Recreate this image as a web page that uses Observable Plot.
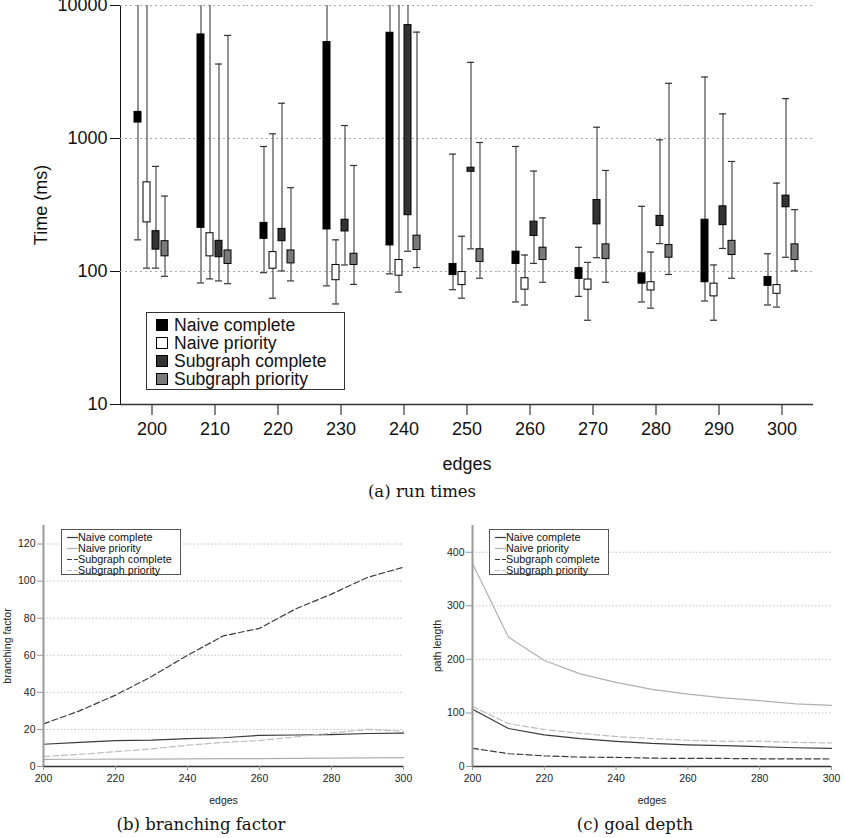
<!DOCTYPE html>
<html><head><meta charset="utf-8">
<script src="https://cdn.jsdelivr.net/npm/d3@7"></script>
<script src="https://cdn.jsdelivr.net/npm/@observablehq/plot@0.6"></script>
<style>
body{margin:0;background:#fff;}
#wrap{position:relative;width:844px;height:838px;overflow:hidden;}
#wrap svg{position:absolute;}
.cap{position:absolute;font-family:"DejaVu Serif",serif;font-size:16.5px;line-height:18px;text-align:center;color:#111;}
.legend{position:absolute;box-sizing:border-box;background:#fff;font-family:"Liberation Sans",Arial,sans-serif;color:#111;}
.legend .row{position:absolute;left:0;white-space:nowrap;}
</style></head><body><div id="wrap"></div>
<script>
// ---------- data ----------
const edges = [200, 210, 220, 230, 240, 250, 260, 270, 280, 290, 300];
const series = ["Naive complete", "Naive priority", "Subgraph complete", "Subgraph priority"];
const timeTicks = [10, 100, 1000, 10000];
// run times (ms): [low whisker, Q1, Q3, high whisker]; 20000 = whisker runs past the top of the chart
const naiveCompleteTime = [[173,1318,1585,20000],[82,213,6060,20000],[98,176,232,871],[78,207,5309,20000],[96,157,6237,20000],[73,94,114,763],[59,114,141,871],[65,88,106,152],[59,81,97,309],[60,83,245,2900],[56,78,91,136]];
const naivePriorityTime = [[106,234,468,20000],[88,130,194,20000],[63,105,140,1084],[57,86,112,173],[70,93,122,20000],[63,79,99,184],[56,73,89,133],[43,73,87,117],[53,72,83,140],[43,65,81,112],[54,68,79,462]];
const subgraphCompleteTime = [[106,146,201,617],[85,128,170,3631],[101,169,209,1841],[112,200,245,1252],[142,265,7120,20000],[148,562,603,3736],[115,185,237,569],[127,226,345,1216],[162,220,262,977],[149,223,309,1531],[128,304,372,1995]];
const subgraphPriorityTime = [[92,130,169,369],[81,114,144,5957],[85,115,144,427],[80,112,136,627],[107,145,186,6310],[89,118,147,933],[83,122,151,253],[83,124,160,575],[95,127,158,2600],[89,133,170,672],[101,122,160,292]];

// branching factor
const bfNaiveComplete = [12, 13, 14, 14.2, 15, 15.5, 16.8, 17, 17.2, 17.8, 18];
const bfNaivePriority = [3.8, 3.9, 4, 4, 4.1, 4.2, 4.3, 4.4, 4.5, 4.6, 4.8];
const bfSubgraphComplete = [23, 30, 38.5, 48.5, 60, 70.5, 74.5, 85, 93, 102, 107.5];
const bfSubgraphPriority = [5.4, 6.5, 8, 9.5, 11.5, 13, 14, 16, 18, 20, 19];
const bfTicks = [0, 20, 40, 60, 80, 100, 120];

// goal depth (path length)
const gdNaiveComplete = [107, 71, 59, 52, 47, 43, 40.5, 39, 37, 35, 34];
const gdNaivePriority = [379, 242, 198, 173, 157, 144, 135, 128, 123, 117, 114];
const gdSubgraphComplete = [34, 24, 20, 17.5, 17, 15.6, 15, 15, 14.4, 14.4, 14];
const gdSubgraphPriority = [112, 80, 69, 62, 56, 52, 49, 47, 47.5, 45, 44];
const gdTicks = [0, 100, 200, 300, 400];
const lineXTicks = [200, 220, 240, 260, 280, 300];

// ---------- styles ----------
const boxFill = ["#000000", "#ffffff", "#333333", "#7a7a7a"];
const lineStroke = ["#3a3a3a", "#b0b0b0", "#3a3a3a", "#bdbdbd"];
const lineDash = [null, null, "6,3", "6,3"];
const sans = "'Liberation Sans', Arial, sans-serif";

const wrap = document.getElementById("wrap");

// ---------- (a) run times ----------
const timeSets = [naiveCompleteTime, naivePriorityTime, subgraphCompleteTime, subgraphPriorityTime];
const rows = [];
series.forEach((s, i) => timeSets[i].forEach((v, j) => rows.push({edges: edges[j], series: s, lo: v[0], q1: v[1], q3: v[2], hi: v[3]})));

const plotA = Plot.plot({
  width: 844, height: 472,
  marginLeft: 116, marginRight: 28, marginTop: 5, marginBottom: 68,
  style: {fontFamily: sans, fontSize: "18px", color: "#111", background: "transparent", overflow: "visible"},
  fx: {domain: edges, paddingInner: 0, paddingOuter: 0, axis: "bottom", tickSize: 11, tickPadding: 7, label: "edges", labelAnchor: "center", labelArrow: "none"},
  x: {domain: series, paddingInner: 0.2, paddingOuter: 1.28, axis: null},
  y: {type: "log", domain: [10, 10000], ticks: timeTicks, tickFormat: d => String(d), tickSize: 10, tickPadding: 3, line: true, label: "Time (ms)", labelAnchor: "center", labelOffset: 86, labelArrow: "none"},
  color: {domain: series, range: boxFill},
  marks: [
    Plot.ruleY(timeTicks.slice(1), {stroke: "#aaa", strokeDasharray: "2,3"}),
    Plot.ruleX(rows, {fx: "edges", x: "series", y1: "lo", y2: "hi", stroke: "#4a4a4a", strokeWidth: 1.2, clip: true}),
    Plot.tickY(rows, {fx: "edges", x: "series", y: "hi", stroke: "#333", strokeWidth: 1.2, clip: true}),
    Plot.tickY(rows, {fx: "edges", x: "series", y: "lo", stroke: "#333", strokeWidth: 1.2, clip: true}),
    Plot.barY(rows, {fx: "edges", x: "series", y1: "q1", y2: "q3", fill: "series", stroke: "#000", strokeWidth: 1}),
    Plot.ruleY([10], {stroke: "#333", strokeWidth: 1.5})
  ]
});
plotA.style.left = "0px"; plotA.style.top = "0px";
wrap.appendChild(plotA);

// legend (a)
(function () {
  const lg = document.createElement("div");
  lg.className = "legend";
  Object.assign(lg.style, {left: "146px", top: "312px", width: "199px", height: "78px", border: "1px solid #333", fontSize: "17.6px"});
  series.forEach((s, i) => {
    const r = document.createElement("div");
    r.className = "row";
    Object.assign(r.style, {top: (3 + i * 18) + "px", height: "18px", lineHeight: "18px"});
    const sw = document.createElement("span");
    Object.assign(sw.style, {position: "absolute", left: "9px", top: "3px", width: "12px", height: "12px", boxSizing: "border-box", border: "1px solid #000", background: boxFill[i]});
    const t = document.createElement("span");
    Object.assign(t.style, {position: "absolute", left: "27px", top: "0px"});
    t.textContent = s;
    r.appendChild(sw); r.appendChild(t); lg.appendChild(r);
  });
  wrap.appendChild(lg);
})();

// ---------- line charts ----------
function lineChart(sets, yDomain, yTicks, yLabel, mL, mR, labelOffset) {
  const marks = [
    Plot.ruleY(yTicks.filter(d => d > 0), {stroke: "#c4c4c4", strokeDasharray: "1.5,2"})
  ];
  sets.forEach((vals, i) => {
    const pts = vals.map((v, j) => ({edges: edges[j], value: v}));
    marks.push(Plot.line(pts, {x: "edges", y: "value", stroke: lineStroke[i], strokeWidth: 1.2, strokeDasharray: lineDash[i]}));
  });
  marks.push(
    Plot.ruleX([200], {stroke: "#999", strokeWidth: 2}),
    Plot.ruleY([0], {stroke: "#333", strokeWidth: 1.5}),
    Plot.axisX({ticks: lineXTicks, tickSize: 4, tickPadding: 4, stroke: "#999", fill: "#222", label: "edges", labelAnchor: "center", labelOffset: 37, labelArrow: "none"}),
    Plot.axisY({ticks: yTicks, tickSize: 6, tickPadding: 2, stroke: "#999", fill: "#222", label: yLabel, labelAnchor: "center", labelOffset: labelOffset, labelArrow: "none"})
  );
  return Plot.plot({
    width: 422, height: 286,
    marginLeft: mL, marginRight: mR, marginTop: 5, marginBottom: 40,
    style: {fontFamily: sans, fontSize: "10.5px", color: "#222", background: "transparent", overflow: "visible"},
    x: {domain: [200, 300]},
    y: {domain: yDomain},
    marks
  });
}

function lineLegend(left, top) {
  const lg = document.createElement("div");
  lg.className = "legend";
  Object.assign(lg.style, {left: left + "px", top: top + "px", width: "120px", height: "46px", border: "1px solid #555", fontSize: "10.8px"});
  series.forEach((s, i) => {
    const r = document.createElement("div");
    r.className = "row";
    Object.assign(r.style, {top: (1.5 + i * 11) + "px", height: "11px", lineHeight: "11px"});
    const svg = document.createElementNS("http://www.w3.org/2000/svg", "svg");
    svg.setAttribute("width", "11"); svg.setAttribute("height", "11");
    Object.assign(svg.style, {position: "absolute", left: "5px", top: "0px"});
    const ln = document.createElementNS("http://www.w3.org/2000/svg", "line");
    ln.setAttribute("x1", "0"); ln.setAttribute("x2", "11"); ln.setAttribute("y1", "5.5"); ln.setAttribute("y2", "5.5");
    ln.setAttribute("stroke", lineStroke[i]); ln.setAttribute("stroke-width", "1.2");
    if (lineDash[i]) ln.setAttribute("stroke-dasharray", "5,2");
    svg.appendChild(ln);
    const t = document.createElement("span");
    Object.assign(t.style, {position: "absolute", left: "16px", top: "0px"});
    t.textContent = s;
    r.appendChild(svg); r.appendChild(t); lg.appendChild(r);
  });
  wrap.appendChild(lg);
}

const plotB = lineChart([bfNaiveComplete, bfNaivePriority, bfSubgraphComplete, bfSubgraphPriority], [0, 130], bfTicks, "branching factor", 43, 19, 40);
plotB.style.left = "0px"; plotB.style.top = "520px";
wrap.appendChild(plotB);
lineLegend(61, 529);

const plotC = lineChart([gdNaiveComplete, gdNaivePriority, gdSubgraphComplete, gdSubgraphPriority], [0, 450], gdTicks, "path length", 50, 13, 39);
plotC.style.left = "422px"; plotC.style.top = "520px";
wrap.appendChild(plotC);
lineLegend(489, 529);

// ---------- captions ----------
function caption(text, cx, cy) {
  const d = document.createElement("div");
  d.className = "cap";
  Object.assign(d.style, {left: (cx - 150) + "px", width: "300px", top: (cy - 9) + "px"});
  d.textContent = text;
  wrap.appendChild(d);
}
caption("(a) run times", 422, 492);
caption("(b) branching factor", 201, 825);
caption("(c) goal depth", 635, 825);
</script></body></html>
